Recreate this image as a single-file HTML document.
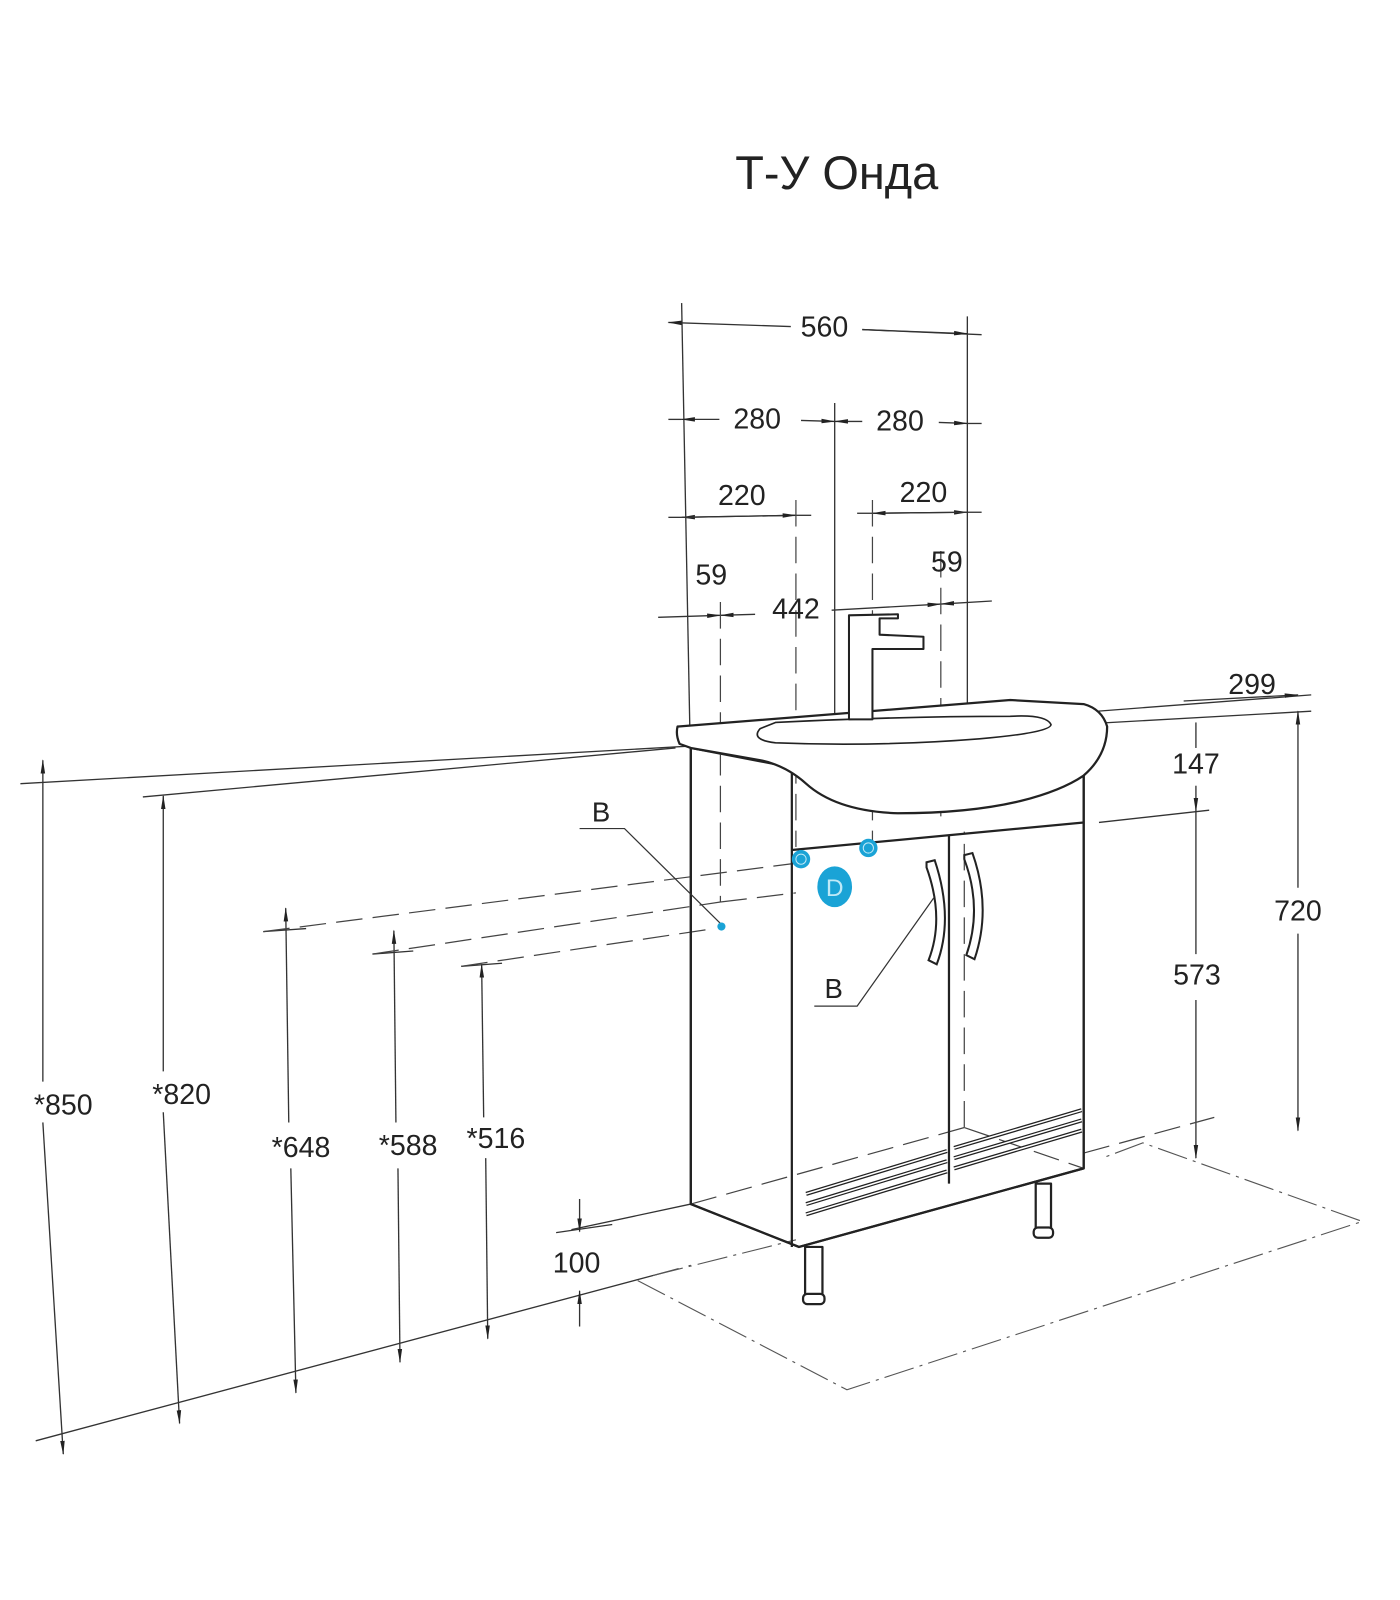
<!DOCTYPE html>
<html><head><meta charset="utf-8"><style>
html,body{margin:0;padding:0;background:#fff;width:1400px;height:1600px;overflow:hidden}
svg{display:block}
text{font-family:"Liberation Sans","DejaVu Sans",sans-serif;fill:#222}
</style></head><body>
<svg width="1400" height="1600" viewBox="0 0 1372 1568" preserveAspectRatio="none" xmlns="http://www.w3.org/2000/svg">
<defs>
<marker id="a" markerWidth="14" markerHeight="6" refX="13" refY="3" orient="auto" markerUnits="userSpaceOnUse"><path d="M0,0.8 L14,3 L0,5.2z" fill="#222"/></marker>
</defs>
<text x="820" y="185" font-size="46" text-anchor="middle" fill="#333">Т-У Онда</text>

<g stroke="#333" stroke-width="1.3" fill="none">
<line x1="668" y1="297" x2="676" y2="712"/>
<line x1="948" y1="310" x2="948" y2="690"/>
<line x1="818" y1="395" x2="818" y2="830"/>
<line x1="775" y1="320" x2="655" y2="316" marker-end="url(#a)"/>
<line x1="845" y1="323" x2="962" y2="328"/>
<line x1="845" y1="323" x2="948" y2="327" marker-end="url(#a)"/>
<line x1="655" y1="411" x2="668" y2="411"/>
<line x1="705" y1="411" x2="668" y2="411" marker-end="url(#a)"/>
<line x1="785" y1="412" x2="818" y2="413" marker-end="url(#a)"/>
<line x1="845" y1="413" x2="818" y2="413" marker-end="url(#a)"/>
<line x1="920" y1="414" x2="948" y2="415" marker-end="url(#a)"/>
<line x1="948" y1="415" x2="962" y2="415"/>
<line x1="780" y1="505" x2="668" y2="507" marker-end="url(#a)"/>
<line x1="655" y1="507" x2="668" y2="507"/>
<line x1="668" y1="507" x2="780" y2="505" marker-end="url(#a)"/>
<line x1="780" y1="505" x2="795" y2="505"/>
<line x1="840" y1="503" x2="855" y2="503"/>
<line x1="855" y1="503" x2="948" y2="502" marker-end="url(#a)"/>
<line x1="948" y1="502" x2="855" y2="503" marker-end="url(#a)"/>
<line x1="948" y1="502" x2="962" y2="502"/>
<line x1="645" y1="605" x2="706" y2="603" marker-end="url(#a)"/>
<line x1="740" y1="602" x2="706" y2="603" marker-end="url(#a)"/>
<line x1="815" y1="598" x2="922" y2="592" marker-end="url(#a)"/>
<line x1="972" y1="589" x2="922" y2="592" marker-end="url(#a)"/>
<line x1="20" y1="768" x2="1285" y2="697"/>
<line x1="140" y1="781" x2="662" y2="733"/>
<line x1="1075" y1="697" x2="1285" y2="681"/>
<line x1="1160" y1="687" x2="1272" y2="681" marker-end="url(#a)"/>
<line x1="1077" y1="806" x2="1185" y2="794"/>
<line x1="1272" y1="712" x2="1272" y2="697" marker-end="url(#a)"/>
<line x1="1272" y1="870" x2="1272" y2="712"/>
<line x1="1272" y1="915" x2="1272" y2="1108" marker-end="url(#a)"/>
<line x1="1172" y1="708" x2="1172" y2="733"/>
<line x1="1172" y1="770" x2="1172" y2="795" marker-end="url(#a)"/>
<line x1="1172" y1="795" x2="1172" y2="935"/>
<line x1="1172" y1="980" x2="1172" y2="1135" marker-end="url(#a)"/>
<line x1="42" y1="1060" x2="42" y2="745" marker-end="url(#a)"/>
<line x1="42" y1="1100" x2="62" y2="1425" marker-end="url(#a)"/>
<line x1="160" y1="1050" x2="160" y2="780" marker-end="url(#a)"/>
<line x1="160" y1="1090" x2="176" y2="1395" marker-end="url(#a)"/>
<line x1="283" y1="1100" x2="280" y2="890" marker-end="url(#a)"/>
<line x1="285" y1="1145" x2="290" y2="1365" marker-end="url(#a)"/>
<line x1="388" y1="1100" x2="386" y2="912" marker-end="url(#a)"/>
<line x1="390" y1="1145" x2="392" y2="1335" marker-end="url(#a)"/>
<line x1="474" y1="1095" x2="472" y2="945" marker-end="url(#a)"/>
<line x1="476" y1="1135" x2="478" y2="1312" marker-end="url(#a)"/>
<line x1="258" y1="913" x2="300" y2="910"/>
<line x1="365" y1="935" x2="405" y2="932"/>
<line x1="452" y1="947" x2="492" y2="944"/>
<line x1="35" y1="1412" x2="640" y2="1250"/>
<line x1="560" y1="1205" x2="677" y2="1180"/>
<line x1="568" y1="1175" x2="568" y2="1207" marker-end="url(#a)"/>
<line x1="568" y1="1300" x2="568" y2="1265" marker-end="url(#a)"/>
<line x1="545" y1="1208" x2="600" y2="1200"/>
</g>

<!-- cabinet body fill -->
<path d="M677,733 L677,1180 L783,1222 L1062,1145 L1062,740 L776,752z" fill="#fff" stroke="#222" stroke-width="2.2" stroke-linejoin="round"/>

<!-- dashed lines -->
<g stroke="#444" stroke-width="1.2" fill="none" stroke-dasharray="26,10">
<line x1="780" y1="490" x2="780" y2="830"/>
<line x1="855" y1="490" x2="855" y2="830"/>
<line x1="706" y1="590" x2="706" y2="884"/>
<line x1="922" y1="540" x2="922" y2="800"/>
<line x1="258" y1="913" x2="780" y2="846"/>
<line x1="365" y1="935" x2="706" y2="884"/>
<line x1="452" y1="947" x2="700" y2="910"/>
<line x1="706" y1="884" x2="780" y2="875"/>
<line x1="640" y1="1250" x2="677" y2="1240"/>
<line x1="677" y1="1180" x2="945" y2="1105"/>
<line x1="945" y1="1105" x2="945" y2="815"/>
<line x1="945" y1="1105" x2="1062" y2="1145"/>
<line x1="1062" y1="1130" x2="1190" y2="1095"/>
</g>
<g stroke="#555" stroke-width="1.1" fill="none" stroke-dasharray="30,6,3,6">
<path d="M625,1255 L830,1362 L1335,1197 L1120,1120 L1080,1135"/>
<line x1="640" y1="1250" x2="780" y2="1215"/>
</g>

<g stroke="#222" stroke-width="2.2" fill="#fff" stroke-linejoin="round">
<path d="M677,733 L677,1180 L783,1222 L1062,1145 L1062,740" fill="none"/>
<line x1="776" y1="752" x2="776" y2="1222"/>
<line x1="776" y1="833" x2="1062" y2="806"/>
<line x1="930" y1="818" x2="930" y2="1160"/>
<path d="M664,712 Q662,720 666,729 L677,733 L745,745 Q770,750 790,768 Q820,795 880,797 Q950,797 1000,785 Q1040,775 1062,760 Q1085,740 1085,712 Q1080,695 1062,690 L990,686 L665,712z"/>
<path d="M745,714 Q735,725 760,728 Q860,732 960,724 Q1030,718 1030,710 Q1025,700 990,702 Q880,702 760,708z" stroke-width="1.6"/>
<path d="M832,603 L832,705 L855,705 L855,636 L905,636 L905,624 L862,622 L862,606 L880,606 L880,602z" stroke-width="2"/>
<rect x="789" y="1222" width="17" height="50"/>
<rect x="787" y="1268" width="21" height="10" rx="4"/>
<rect x="1015" y="1160" width="15" height="46"/>
<rect x="1013" y="1203" width="19" height="10" rx="4"/>
</g>
<g stroke="#222" stroke-width="2" fill="#fff">
<path d="M908,845 L916,843 Q935,900 918,945 L910,941 Q926,900 908,850z"/>
<path d="M945,838 L953,836 Q972,890 955,940 L947,936 Q963,890 945,842z"/>
</g>
<g stroke="#222" stroke-width="4" fill="none">
<path d="M790,1170 L928,1128 M790,1180 L928,1138 M790,1190 L928,1148"/>
<path d="M935,1125 L1060,1088 M935,1135 L1060,1098 M935,1145 L1060,1108"/>
</g>
<g stroke="#fff" stroke-width="1.5" fill="none">
<path d="M790,1170 L928,1128 M790,1180 L928,1138 M790,1190 L928,1148"/>
<path d="M935,1125 L1060,1088 M935,1135 L1060,1098 M935,1145 L1060,1108"/>
</g>

<g stroke="#333" stroke-width="1.2" fill="none">
<polyline points="568,812 612,812 707,906"/>
<polyline points="798,986 840,986 915,880"/>
</g>
<text x="580" y="805" font-size="27">B</text>
<text x="808" y="978" font-size="27">B</text>

<g fill="#1aa3d6">
<circle cx="707" cy="908" r="4"/>
<circle cx="785" cy="842" r="9"/>
<circle cx="851" cy="831" r="9"/>
<ellipse cx="818" cy="869" rx="17" ry="20"/>
</g>
<g fill="none" stroke="#bfe9f7" stroke-width="1"><circle cx="785" cy="842" r="5"/><circle cx="851" cy="831" r="5"/></g>
<text x="818" y="878" font-size="24" text-anchor="middle" style="fill:#bfe9f7">D</text>

<g font-size="28" text-anchor="middle">
<text x="808" y="330">560</text>
<text x="742" y="420">280</text>
<text x="882" y="422">280</text>
<text x="727" y="495">220</text>
<text x="905" y="492">220</text>
<text x="697" y="573">59</text>
<text x="928" y="560">59</text>
<text x="780" y="606">442</text>
<text x="1227" y="680">299</text>
<text x="1172" y="758">147</text>
<text x="1272" y="902">720</text>
<text x="1173" y="965">573</text>
<text x="62" y="1092">*850</text>
<text x="178" y="1082">*820</text>
<text x="295" y="1134">*648</text>
<text x="400" y="1132">*588</text>
<text x="486" y="1125">*516</text>
<text x="565" y="1247">100</text>
</g>
</svg>
</body></html>
